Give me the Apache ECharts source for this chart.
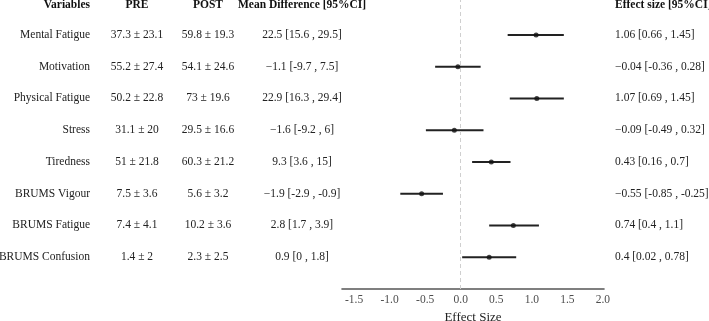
<!DOCTYPE html>
<html>
<head>
<meta charset="utf-8">
<script src="https://cdn.jsdelivr.net/npm/echarts@6/dist/echarts.min.js"></script>
<style>
  html, body { margin: 0; padding: 0; background: #fff; }
  #chart { width: 709px; height: 321px; }
</style>
</head>
<body>
<div id="chart"></div>
<script>
// rows, top to bottom
const variables = ['Mental Fatigue', 'Motivation', 'Physical Fatigue', 'Stress',
  'Tiredness', 'BRUMS Vigour', 'BRUMS Fatigue', 'BRUMS Confusion'];
const preMean = [37.3, 55.2, 50.2, 31.1, 51, 7.5, 7.4, 1.4];
const preSd = [23.1, 27.4, 22.8, 20, 21.8, 3.6, 4.1, 2];
const postMean = [59.8, 54.1, 73, 29.5, 60.3, 5.6, 10.2, 2.3];
const postSd = [19.3, 24.6, 19.6, 16.6, 21.2, 3.2, 3.6, 2.5];
const diff = [22.5, -1.1, 22.9, -1.6, 9.3, -1.9, 2.8, 0.9];
const diffLo = [15.6, -9.7, 16.3, -9.2, 3.6, -2.9, 1.7, 0];
const diffHi = [29.5, 7.5, 29.4, 6, 15, -0.9, 3.9, 1.8];
const effect = [1.06, -0.04, 1.07, -0.09, 0.43, -0.55, 0.74, 0.4];
const effectLo = [0.66, -0.36, 0.69, -0.49, 0.16, -0.85, 0.4, 0.02];
const effectHi = [1.45, 0.28, 1.45, 0.32, 0.7, -0.25, 1.1, 0.78];
const xTicks = [-1.5, -1.0, -0.5, 0.0, 0.5, 1.0, 1.5, 2.0];
const headers = ['Variables', 'PRE', 'POST', 'Mean Difference [95%CI]', 'Effect size [95%CI]'];

const FONT = 'Liberation Serif';
const n = variables.length;
// row i sits at y = n - i, header a bit less than one step above
const rowY = variables.map((v, i) => n - i);
const headerY = n + 0.94;

// estimates use a real minus sign, the bounds a hyphen
const est = v => (v < 0 ? '\u2212' + Math.abs(v) : String(v));
const ci = (m, lo, hi) => est(m) + ' [' + lo + ' , ' + hi + ']';

const tableRows = variables.map((v, i) => [
  v,
  preMean[i] + ' \u00b1 ' + preSd[i],
  postMean[i] + ' \u00b1 ' + postSd[i],
  ci(diff[i], diffLo[i], diffHi[i]),
  ci(effect[i], effectLo[i], effectHi[i])
]);
tableRows.unshift(headers);
const tableY = [headerY].concat(rowY);

// column anchors (pixels) and alignment
const colX = [90, 137, 208, 302, 615];
const colAlign = ['right', 'center', 'center', 'center', 'left'];

const chart = echarts.init(document.getElementById('chart'));

const option = {
  animation: false,
  grid: { left: 342, right: 105, top: 0, bottom: 32, outerBoundsMode: 'none' },
  xAxis: {
    type: 'value',
    min: -1.67,
    max: 2.015,
    name: 'Effect Size',
    nameLocation: 'middle',
    nameGap: 15,
    nameTextStyle: { fontFamily: FONT, fontSize: 13, color: '#222' },
    axisLine: { show: true, onZero: false, lineStyle: { color: '#555', width: 1.6 } },
    axisTick: { show: false },
    splitLine: { show: false },
    axisLabel: {
      customValues: xTicks,
      margin: 5,
      fontFamily: FONT,
      fontSize: 11.5,
      color: '#4d4d4d',
      formatter: v => v.toFixed(1)
    }
  },
  yAxis: {
    type: 'value',
    min: 0,
    max: 9.1,
    show: false
  },
  series: [
    {
      type: 'custom',
      name: 'ci',
      data: variables.map((v, i) => [effectLo[i], effectHi[i], rowY[i]]),
      renderItem: (params, api) => {
        const a = api.coord([api.value(0), api.value(2)]);
        const b = api.coord([api.value(1), api.value(2)]);
        return {
          type: 'line',
          shape: { x1: a[0], y1: a[1], x2: b[0], y2: b[1] },
          style: { stroke: '#222', lineWidth: 2 }
        };
      },
      markLine: {
        silent: true,
        symbol: 'none',
        label: { show: false },
        lineStyle: { color: '#cfcfcf', type: [4, 3], width: 1 },
        data: [{ xAxis: 0 }]
      },
      z: 2
    },
    {
      type: 'scatter',
      name: 'effect',
      data: variables.map((v, i) => [effect[i], rowY[i]]),
      symbolSize: 5,
      itemStyle: { color: '#111' },
      z: 3
    },
    {
      // the text table on both sides of the plot
      type: 'custom',
      name: 'table',
      data: tableRows.map((r, i) => [0, tableY[i], i]),
      renderItem: (params, api) => {
        const idx = api.value(2);
        const y = api.coord([0, api.value(1)])[1];
        const row = tableRows[idx];
        return {
          type: 'group',
          children: row.map((t, c) => ({
            type: 'text',
            style: {
              x: colX[c],
              y: y,
              text: t,
              align: colAlign[c],
              verticalAlign: 'middle',
              fontFamily: FONT,
              fontSize: 11.5,
              fontWeight: idx === 0 ? 'bold' : 'normal',
              fill: idx === 0 ? '#111' : '#222'
            }
          }))
        };
      },
      clip: false,
      silent: true
    }
  ]
};

chart.setOption(option);
</script>
</body>
</html>
